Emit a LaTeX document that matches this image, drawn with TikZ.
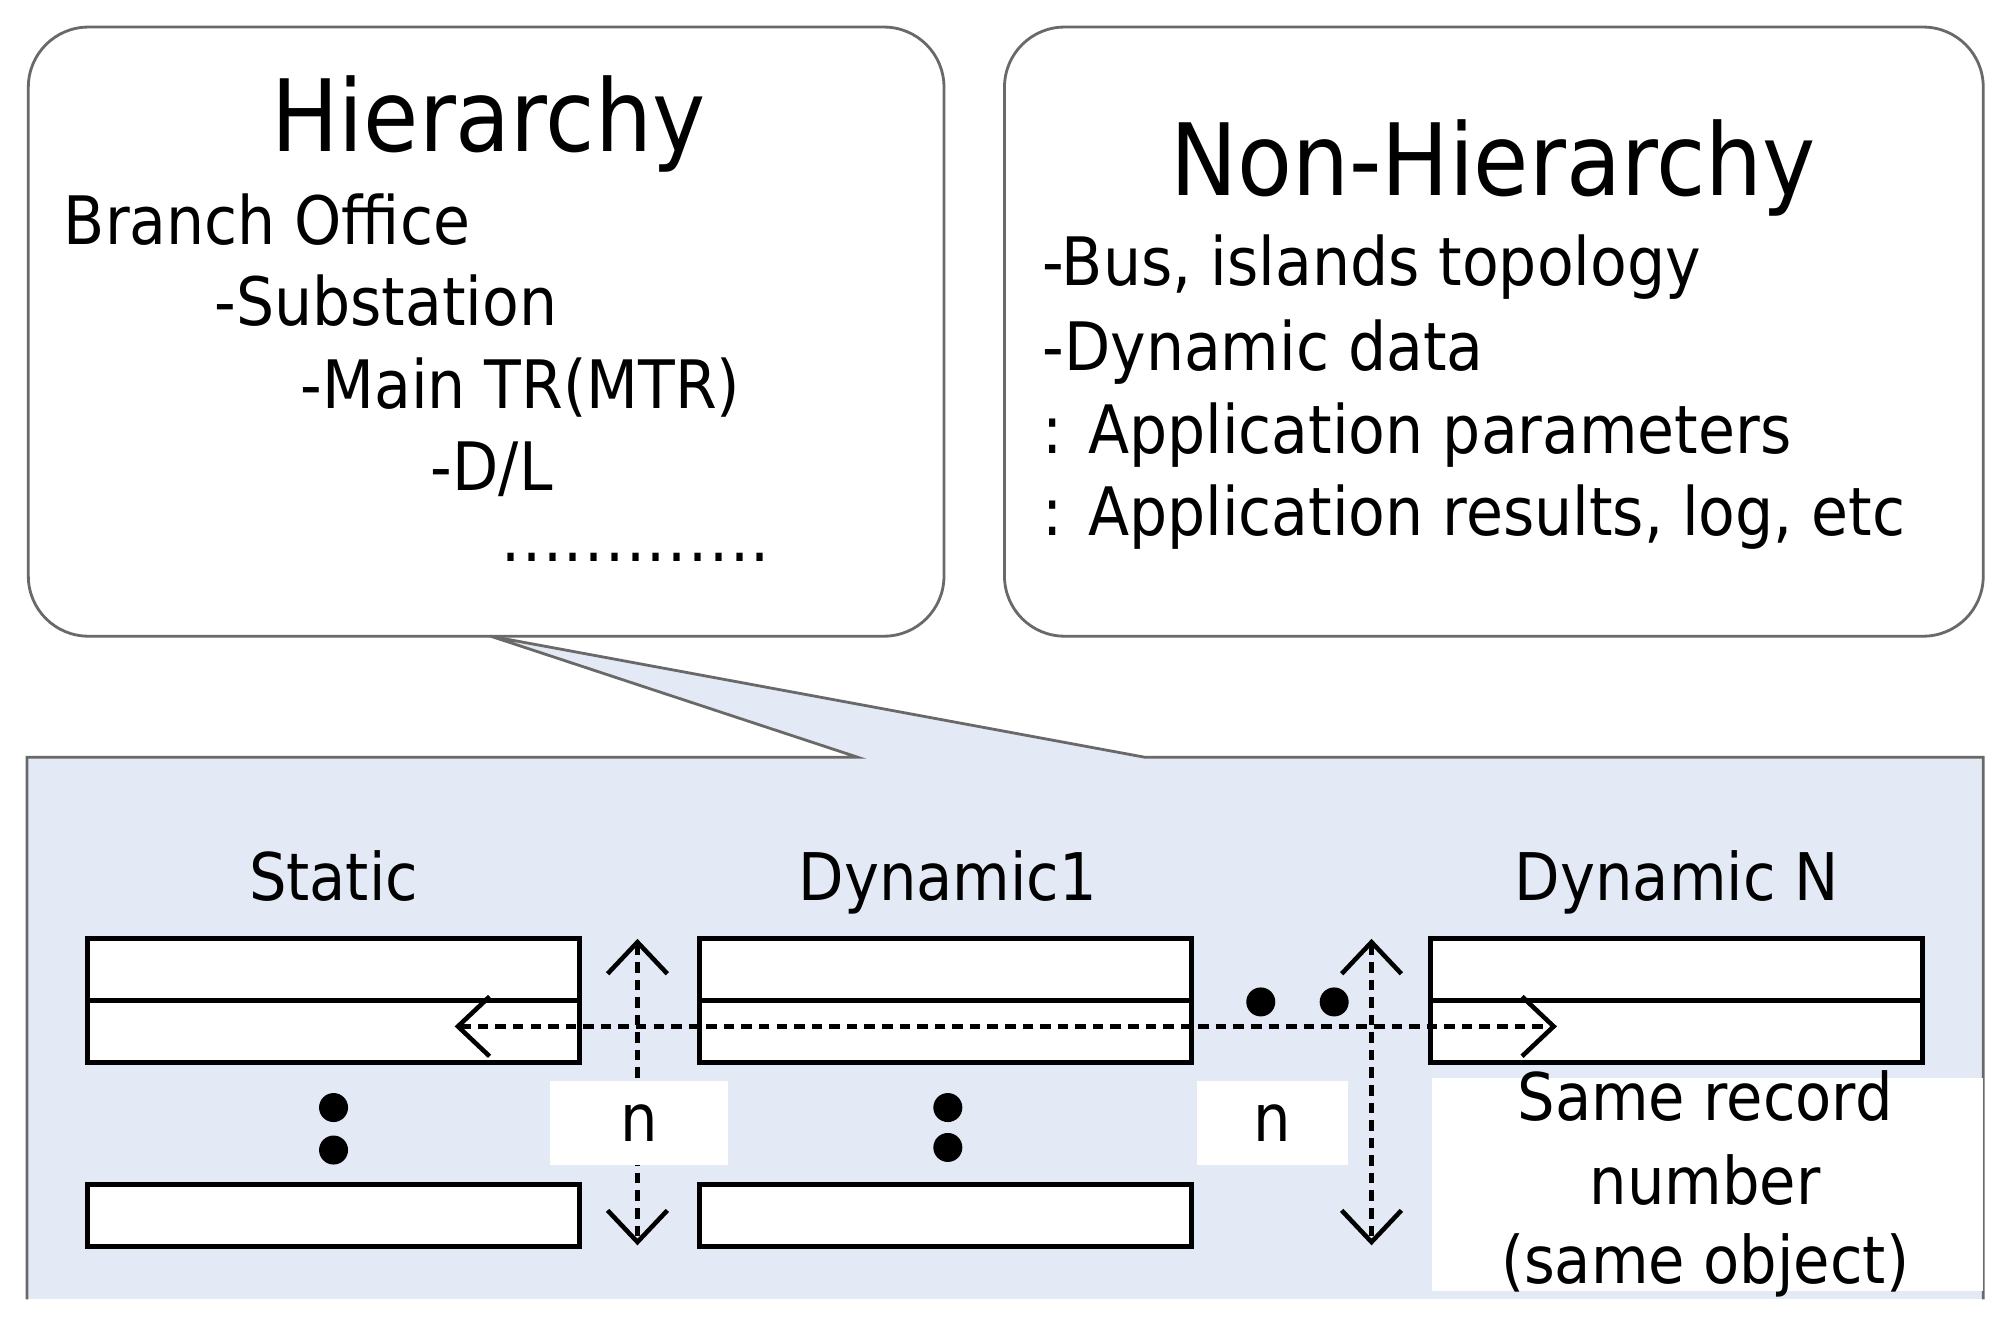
\documentclass[tikz,border=0pt]{standalone}
\usepackage{fontspec}
\setmainfont{DejaVu Sans Condensed}
\usepackage{tikz}
\usetikzlibrary{arrows.meta, positioning}
\definecolor{panelblue}{RGB}{228,234,245}
\definecolor{edgegray}{RGB}{105,105,105}

\begin{document}
\begin{tikzpicture}[x=0.01288cm, y=-0.01288cm,
    roundbox/.style={draw=edgegray, fill=white, line width=0.8pt, rounded corners=0.6cm},
    rec/.style={draw, fill=white, line width=1.4pt, minimum width=4.92cm, minimum height=0.618cm, inner sep=0pt, outer sep=0pt},
    title/.style={font=\fontsize{28.4}{32}\selectfont, inner sep=0pt},
    body/.style={font=\fontsize{19}{22}\selectfont, anchor=base west, inner sep=0pt},
    lbl/.style={font=\fontsize{18.7}{22}\selectfont, anchor=base, inner sep=0pt},
    nbox/.style={fill=white, inner sep=0pt, minimum height=0.84cm, font=\fontsize{18.7}{22}\selectfont},
    dot/.style={circle, fill=black, inner sep=0pt, minimum size=0.29cm},
    barb/.tip={Straight Barb[length=9pt, width=17pt, line width=1.3pt]},
    dasharrow/.style={barb-barb, dash pattern=on 3pt off 2pt, line width=1.3pt}]
            \useasboundingbox (0,0) rectangle (1560,1030);
            % upper boxes
            \draw[roundbox] (22,21) rectangle (733,494);
            \draw[roundbox] (780,21) rectangle (1540,494);
            \node[title, anchor=base] (htitle) at (379,118) {Hierarchy};
            \node[body] (office) at (49,190) {Branch Office};
            \node[body] (subst) at (166,253) {-Substation};
            \node[body] (mtr) at (233,317) {-Main TR(MTR)};
            \node[body] (dl) at (334,381) {-D/L};
            \node[body] (more) at (389,436) {\addfontfeature{LetterSpace=2.5}.............};
            \node[title, anchor=base west] (ntitle) at (908,152) {Non-Hierarchy};
            \node[body] (bus) at (809,222) {-Bus, islands topology};
            \node[body] (dyn) at (809,288) {-Dynamic data};
            \node[body] (par) at (809,352) {: Application parameters};
            \node[body] (res) at (809,416) {: Application results, log, etc};
            % panel with callout
            \fill[panelblue] (21,588) rectangle (1540,1009);
            \fill[panelblue] (381,494) -- (666,588) -- (889,588) -- cycle;
            \draw[edgegray, line width=0.8pt] (21,1009) -- (21,588) -- (666,588) -- (381,494) -- (889,588) -- (1540,588) -- (1540,1009);
            \node[lbl] (static) at (259,699) {Static};
            \node[lbl] (dynone) at (736,699) {Dynamic1};
            \node[lbl] (dynn) at (1302,699) {Dynamic N};
            % records
            \node[rec] (s1) at (259,753) {};
            \node[rec] (s2) at (259,801) {};
            \node[rec] (sn) at (259,944) {};
            \node[rec] (d1) at (734,753) {};
            \node[rec] (d2) at (734,801) {};
            \node[rec] (dn) at (734,944) {};
            \node[rec] (m1) at (1302,753) {};
            \node[rec] (m2) at (1302,801) {};
            \node[dot] (sdota) at (259,860) {};
            \node[dot] (sdotb) at (259,893) {};
            \node[dot] (ddota) at (736,860) {};
            \node[dot] (ddotb) at (736,891) {};
            \node[dot] (hdota) at (979,778) {};
            \node[dot] (hdotb) at (1036,778) {};
            % arrows
            \coordinate (hl) at (353,797);
            \coordinate (hr) at (1209,797);
            \coordinate (va) at (495,729);
            \coordinate (vb) at (495,967);
            \coordinate (wa) at (1065,729);
            \coordinate (wb) at (1065,967);
            \draw[dasharrow] (hl) -- (hr);
            \draw[dasharrow] (va) -- (vb);
            \draw[dasharrow] (wa) -- (wb);
            \node[nbox, minimum width=1.78cm] (n1) at (496,872) {n};
            \node[nbox, minimum width=1.51cm] (n2) at (988,872) {n};
            \node[fill=white, inner sep=0pt, minimum width=5.51cm, minimum height=2.13cm] (same) at (1326,920) {};
            \node[lbl] (samea) at (1324,870) {Same record};
            \node[lbl] (sameb) at (1324,935) {number};
            \node[lbl] (samec) at (1324,997) {(same object)};
        \end{tikzpicture}
\end{document}
